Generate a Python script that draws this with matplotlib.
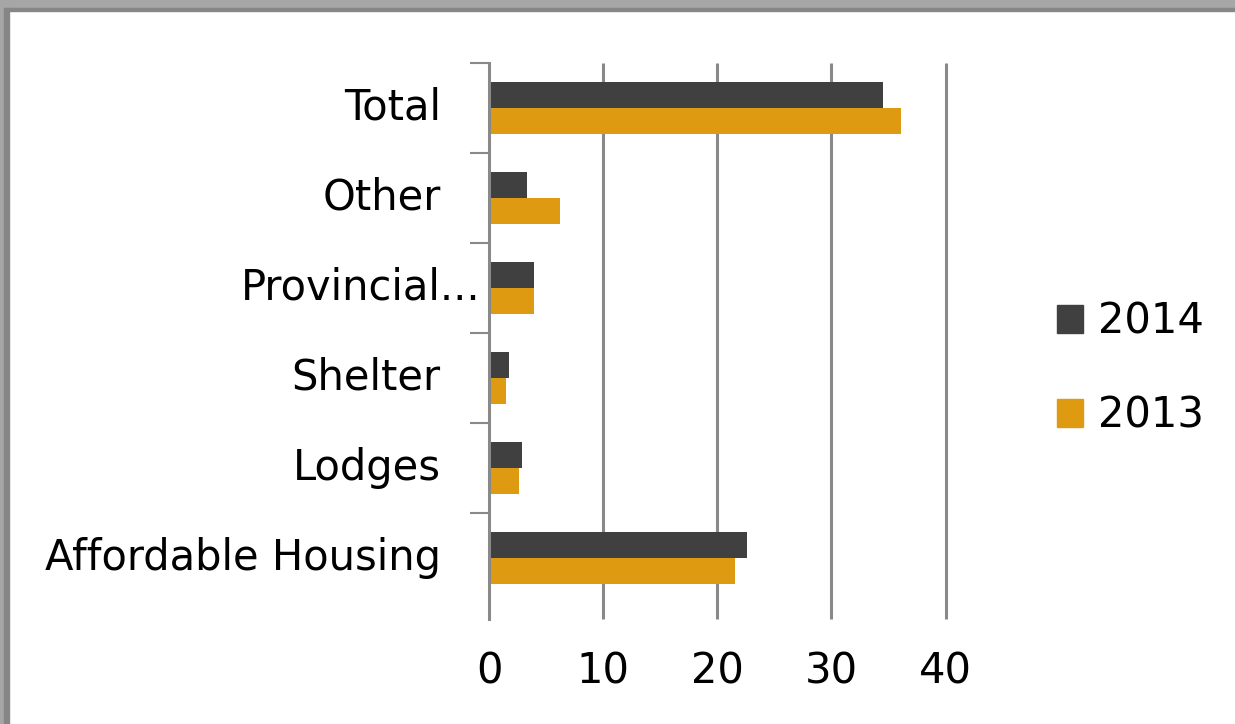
import matplotlib
matplotlib.use("Agg")
import matplotlib.pyplot as plt
from matplotlib.patches import Rectangle, Patch
import numpy as np

# =============================================================================
# DATA
# =============================================================================

CATEGORIES = ["Affordable Housing", "Lodges", "Shelter", "Provincial...", "Other", "Total"]
VALUES_2014 = [22.6, 2.9, 1.7, 3.9, 3.3, 34.5]
VALUES_2013 = [21.5, 2.6, 1.5, 3.9, 6.2, 36.1]
SERIES_LABELS = ["2014", "2013"]
X_TICKS = [0, 10, 20, 30, 40]

DARK = "#404040"
ORANGE = "#de9a10"
GRID = "#898989"

plt.rcParams["font.family"] = "DejaVu Sans"

fig = plt.figure(figsize=(12.35, 7.24), dpi=100)
ax = fig.add_axes([489.3 / 1235, 1 - 619 / 724, (945.5 - 489.3) / 1235, (619 - 63) / 724])

y = np.arange(len(CATEGORIES))
h = 0.29
ax.barh(y + h / 2, VALUES_2014, height=h, color=DARK, zorder=3)
ax.barh(y - h / 2, VALUES_2013, height=h, color=ORANGE, zorder=3)

ax.set_xlim(0, 40)
ax.set_ylim(-0.68, 5.5)

# value gridlines, not clipped so the one at 40 is full width
ax.vlines(X_TICKS[1:], -0.68, 5.5, colors=GRID, linewidth=2.2, zorder=1, clip_on=False)

for s in ["top", "right", "bottom"]:
    ax.spines[s].set_visible(False)
ax.spines["left"].set_color(GRID)
ax.spines["left"].set_linewidth(2.2)
ax.spines["left"].set_zorder(4)

ax.set_xticks(X_TICKS)
ax.set_xticklabels([str(t) for t in X_TICKS])
ax.tick_params(axis="x", length=0, pad=23, labelsize=30, colors="black")

# category labels drawn as text so "Provincial..." can sit closer to the axis
ax.set_yticks([])
ax.set_yticks(np.arange(len(CATEGORIES)) + 0.5, minor=True)
ax.tick_params(axis="y", which="minor", length=14, width=1.5, color=GRID)
for i, lab in enumerate(CATEGORIES):
    off = -6.5 if lab.endswith("...") else -35
    ax.annotate(lab, xy=(0, i), xycoords=("axes fraction", "data"),
                xytext=(off, 0), textcoords="offset points",
                ha="right", va="center", fontsize=30)

handles = [Patch(color=DARK), Patch(color=ORANGE)]
fig.legend(handles, SERIES_LABELS, loc="center left",
           bbox_to_anchor=(1057 / 1235, 1 - 368.5 / 724),
           frameon=False, fontsize=30, handlelength=0.62, handleheight=0.65,
           handletextpad=0.36, labelspacing=1.24, borderpad=0, borderaxespad=0)

# grey window frame at top and left
fig.add_artist(Rectangle((0, 1 - 8 / 724), 1, 8 / 724, transform=fig.transFigure,
                         color="#a6a6a6", zorder=10))
fig.add_artist(Rectangle((0, 1 - 11 / 724), 1, 3 / 724, transform=fig.transFigure,
                         color="#868686", zorder=10))
fig.add_artist(Rectangle((0, 0), 4 / 1235, 1, transform=fig.transFigure,
                         color="#a6a6a6", zorder=10))
fig.add_artist(Rectangle((4 / 1235, 0), 5 / 1235, 1 - 8 / 724, transform=fig.transFigure,
                         color="#868686", zorder=10))

fig.savefig("out.png", dpi=100)
